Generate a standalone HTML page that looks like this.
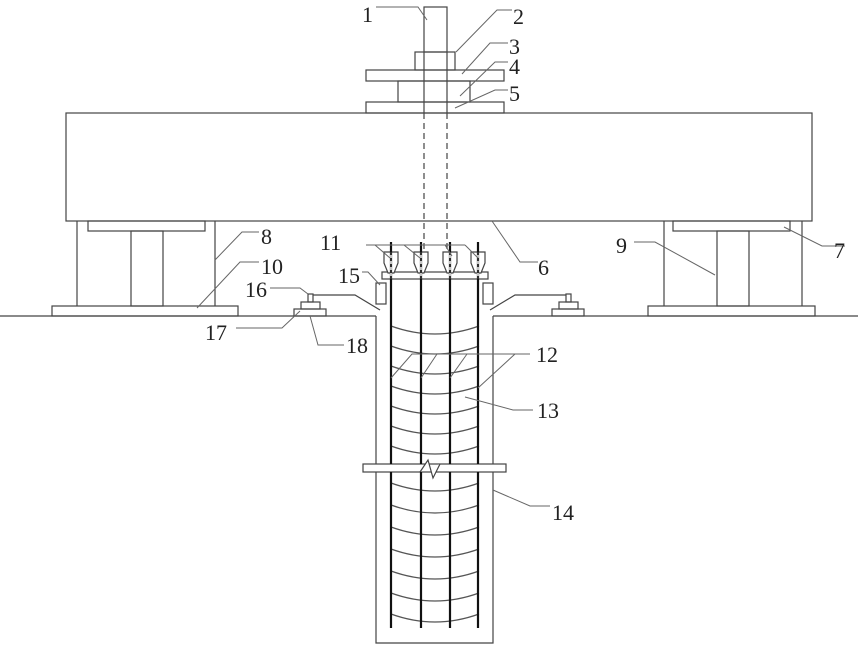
<!DOCTYPE html>
<html><head><style>body{margin:0;background:#fff}svg{display:block}text{font-family:"Liberation Serif",serif;font-size:22px;fill:#222}</style></head><body>
<svg width="858" height="647" viewBox="0 0 858 647" xmlns="http://www.w3.org/2000/svg">
<g fill="none" stroke="#444" stroke-width="1.2">
<line x1="0" y1="316" x2="376" y2="316"/><line x1="493" y1="316" x2="858" y2="316"/>
<rect x="66" y="113" width="746" height="108"/>
<rect x="424" y="7" width="23" height="45"/>
<rect x="415" y="52" width="40" height="18"/>
<rect x="366" y="70" width="138" height="11"/>
<rect x="398" y="81" width="72" height="21"/>
<rect x="366" y="102" width="138" height="11"/>
<line x1="424" y1="52" x2="424" y2="113"/><line x1="447" y1="52" x2="447" y2="113"/>
<line x1="424" y1="113" x2="424" y2="250" stroke-dasharray="6,4"/><line x1="447" y1="113" x2="447" y2="250" stroke-dasharray="6,4"/>
<rect x="88" y="221" width="117" height="10"/>
<rect x="131" y="231" width="32" height="75"/>
<rect x="52" y="306" width="186" height="10"/>
<line x1="77" y1="221" x2="77" y2="306"/><line x1="215" y1="221" x2="215" y2="306"/>
<rect x="673" y="221" width="117" height="10"/>
<rect x="717" y="231" width="32" height="75"/>
<rect x="648" y="306" width="167" height="10"/>
<line x1="664" y1="221" x2="664" y2="306"/><line x1="802" y1="221" x2="802" y2="306"/>
<polyline points="376,316 376,643 493,643 493,316"/>
<rect x="363" y="464" width="143" height="8" fill="#fff"/>
<polyline points="420,472 428,460 433,478 440,464" fill="#fff"/>
<g stroke="#555">
<path d="M391 326 Q435 342 479 326"/><path d="M391 346 Q435 362 479 346"/><path d="M391 366 Q435 382 479 366"/><path d="M391 386 Q435 402 479 386"/><path d="M391 406 Q435 422 479 406"/><path d="M391 426 Q435 442 479 426"/><path d="M391 446 Q435 462 479 446"/>
<path d="M391 483 Q435 499 479 483"/><path d="M391 505 Q435 521 479 505"/><path d="M391 527 Q435 543 479 527"/><path d="M391 549 Q435 565 479 549"/><path d="M391 571 Q435 587 479 571"/><path d="M391 593 Q435 609 479 593"/><path d="M391 614 Q435 630 479 614"/>
</g>
<rect x="382" y="272" width="106" height="7" fill="#fff"/>
<g fill="#fff">
<path d="M384 252 H398 V263 L394 273 H388 L384 263 Z"/>
<path d="M414 252 H428 V263 L424 273 H418 L414 263 Z"/>
<path d="M443 252 H457 V263 L453 273 H447 L443 263 Z"/>
<path d="M471 252 H485 V263 L481 273 H475 L471 263 Z"/>
</g>
<rect x="376" y="283" width="10" height="21"/><rect x="483" y="283" width="10" height="21"/>
<rect x="308" y="294" width="5" height="8"/><rect x="301" y="302" width="19" height="7"/><rect x="294" y="309" width="32" height="7"/>
<rect x="566" y="294" width="5" height="8"/><rect x="559" y="302" width="19" height="7"/><rect x="552" y="309" width="32" height="7"/>
<polyline points="313,295 355,295 380,310"/><polyline points="566,295 515,295 490,310"/>
</g>
<g stroke="#111" stroke-width="2.2">
<line x1="391" y1="242" x2="391" y2="464"/><line x1="391" y1="472" x2="391" y2="628"/>
<line x1="421" y1="242" x2="421" y2="464"/><line x1="421" y1="472" x2="421" y2="628"/>
<line x1="450" y1="242" x2="450" y2="464"/><line x1="450" y1="472" x2="450" y2="628"/>
<line x1="478" y1="242" x2="478" y2="464"/><line x1="478" y1="472" x2="478" y2="628"/>
</g>
<g stroke-width="1.5">
<line x1="391" y1="252" x2="391" y2="279" stroke="#fff"/><line x1="421" y1="252" x2="421" y2="279" stroke="#fff"/><line x1="450" y1="252" x2="450" y2="279" stroke="#fff"/><line x1="478" y1="252" x2="478" y2="279" stroke="#fff"/>
</g>
<g stroke="#111" stroke-width="1.5" stroke-dasharray="3,3">
<line x1="391" y1="252" x2="391" y2="279"/><line x1="421" y1="252" x2="421" y2="279"/><line x1="450" y1="252" x2="450" y2="279"/><line x1="478" y1="252" x2="478" y2="279"/>
</g>
<g fill="none" stroke="#666" stroke-width="1">
<polyline points="376,7 418,7 427,20"/>
<polyline points="512,10 497,10 456,52"/>
<polyline points="508,43 490,43 462,74"/>
<polyline points="508,62 495,62 460,96"/>
<polyline points="508,90 495,90 455,108"/>
<polyline points="538,262 520,262 492,221"/>
<polyline points="845,246 822,246 784,227"/>
<polyline points="259,232 242,232 215,260"/>
<polyline points="634,242 655,242 715,275"/>
<polyline points="259,262 240,262 197,308"/>
<polyline points="366,245 465,245"/><line x1="375" y1="245" x2="390" y2="258"/><line x1="404" y1="245" x2="420" y2="258"/><line x1="445" y1="245" x2="452" y2="256"/><line x1="465" y1="245" x2="478" y2="258"/>
<polyline points="362,272 368,272 380,285"/>
<polyline points="270,288 300,288 308,294"/>
<polyline points="236,328 282,328 300,311"/>
<polyline points="344,345 318,345 310,316"/>
<polyline points="530,354 412,354 391,378"/><line x1="437" y1="354" x2="421" y2="378"/><line x1="467" y1="354" x2="450" y2="378"/><line x1="515" y1="354" x2="478" y2="388"/>
<polyline points="533,410 513,410 465,397"/>
<polyline points="550,506 530,506 493,490"/>
</g>
<text x="362" y="22">1</text><text x="513" y="24">2</text><text x="509" y="54">3</text><text x="509" y="74">4</text><text x="509" y="101">5</text>
<text x="538" y="275">6</text><text x="834" y="258">7</text><text x="261" y="244">8</text><text x="616" y="253">9</text>
<text x="261" y="274">10</text><text x="320" y="250">11</text><text x="536" y="362">12</text><text x="537" y="418">13</text>
<text x="552" y="520">14</text><text x="338" y="283">15</text><text x="245" y="297">16</text><text x="205" y="340">17</text><text x="346" y="353">18</text>
</svg>
</body></html>
